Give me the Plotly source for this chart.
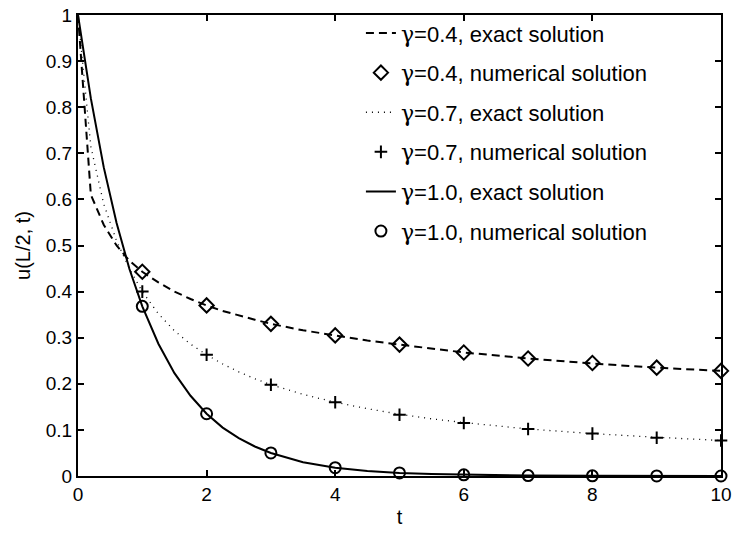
import plotly.graph_objects as go

# values
t_curve = [0, 0.2, 0.4, 0.6, 0.8, 1, 1.25, 1.5, 1.75, 2, 2.25, 2.5, 2.75, 3,
           3.5, 4, 4.5, 5, 5.5, 6, 7, 8, 9, 10]
u_exact_04 = [1, 0.61, 0.545, 0.50, 0.467, 0.443, 0.42, 0.40, 0.384, 0.37, 0.358, 0.348, 0.339, 0.33,
              0.316, 0.305, 0.294, 0.285, 0.276, 0.268, 0.255, 0.244, 0.235, 0.228]
u_exact_07 = [1, 0.714, 0.59, 0.51, 0.45, 0.40, 0.352, 0.315, 0.286, 0.263, 0.243, 0.226, 0.211, 0.198,
              0.177, 0.16, 0.146, 0.134, 0.124, 0.116, 0.102, 0.092, 0.084, 0.077]
u_exact_10 = [1, 0.819, 0.67, 0.549, 0.449, 0.368, 0.287, 0.223, 0.174, 0.135, 0.105, 0.082, 0.064, 0.05,
              0.03, 0.018, 0.011, 0.0067, 0.0041, 0.0025, 0.0009, 0.0003, 0.0001, 0.00005]

t_num = [1, 2, 3, 4, 5, 6, 7, 8, 9, 10]
u_num_04 = [0.443, 0.37, 0.33, 0.305, 0.285, 0.268, 0.255, 0.245, 0.235, 0.228]
u_num_07 = [0.40, 0.263, 0.198, 0.16, 0.133, 0.115, 0.102, 0.092, 0.083, 0.077]
u_num_10 = [0.368, 0.135, 0.05, 0.018, 0.0067, 0.0025, 0.0009, 0.0003, 0.0001, 0.00005]

FONT = "Liberation Sans, Arial, sans-serif"
G = '<span style="font-family:DejaVu Serif">γ</span>'

fig = go.Figure()

# exact solutions (lines) and numerical solutions (markers)
fig.add_trace(go.Scatter(x=t_curve, y=u_exact_04, mode='lines', name=G + '=0.4, exact solution', legendgroup='a',
                         line=dict(color='black', width=2, dash='8px,5px')))
fig.add_trace(go.Scatter(x=t_num, y=u_num_04, mode='markers', name=G + '=0.4, numerical solution', legendgroup='b',
                         marker=dict(symbol='diamond-open', size=11, color='black', line=dict(width=2)),
                         cliponaxis=False))
fig.add_trace(go.Scatter(x=t_curve, y=u_exact_07, mode='lines', name=G + '=0.7, exact solution', legendgroup='c',
                         line=dict(color='black', width=1.3, dash='1px,5px')))
fig.add_trace(go.Scatter(x=t_num, y=u_num_07, mode='markers', name=G + '=0.7, numerical solution', legendgroup='d',
                         marker=dict(symbol='cross-thin', size=9, color='black', line=dict(width=2, color='black')),
                         cliponaxis=False))
fig.add_trace(go.Scatter(x=t_curve, y=u_exact_10, mode='lines', name=G + '=1.0, exact solution', legendgroup='e',
                         line=dict(color='black', width=2)))
fig.add_trace(go.Scatter(x=t_num, y=u_num_10, mode='markers', name=G + '=1.0, numerical solution', legendgroup='f',
                         marker=dict(symbol='circle-open', size=11, color='black', line=dict(width=2)),
                         cliponaxis=False))

axis_style = dict(showline=True, linecolor='black', linewidth=2, mirror='ticks', ticks='inside',
                  ticklen=6, tickwidth=1.5, tickcolor='black', showgrid=False, zeroline=False,
                  automargin=False, tickfont=dict(family=FONT, size=19, color='black'))

fig.update_xaxes(range=[0, 10], dtick=2, title=dict(text='t', font=dict(family=FONT, size=20), standoff=6),
                 **axis_style)
fig.update_yaxes(range=[0, 1], dtick=0.1, title=dict(text='u(L/2, t)', font=dict(family=FONT, size=20), standoff=10),
                 **axis_style)

fig.update_layout(
    width=736, height=533,
    margin=dict(l=78, r=15, t=13, b=57),
    plot_bgcolor='white', paper_bgcolor='white',
    font=dict(family=FONT, color='black'),
    legend=dict(x=0.44, y=1.006, xanchor='left', yanchor='top', bgcolor='rgba(0,0,0,0)',
                font=dict(family=FONT, size=22), tracegroupgap=8, traceorder='grouped'),
)

# 去掉页面默认边距
fig.write_html("out.html", config={'displayModeBar': False},
               post_script="document.body.style.margin='0';")
